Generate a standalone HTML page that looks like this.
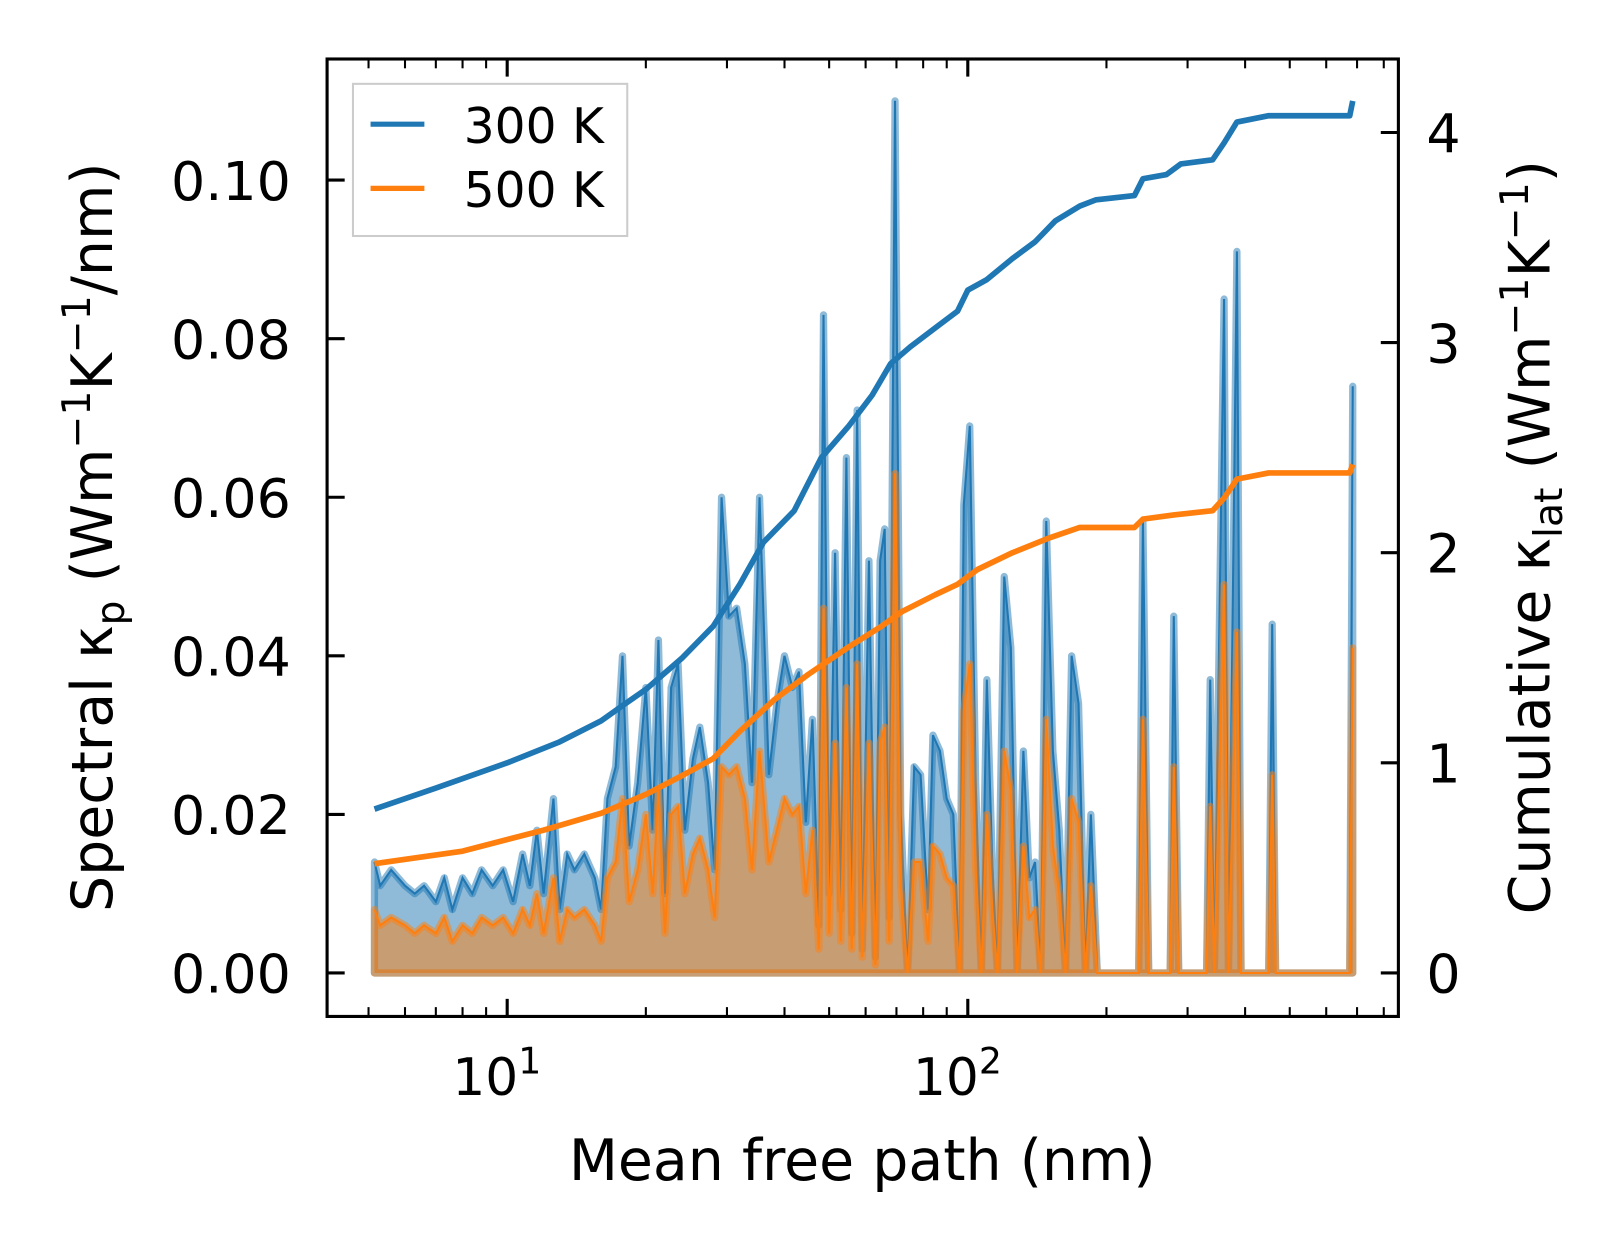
<!DOCTYPE html>
<html><head><meta charset="utf-8"><style>
body{margin:0;background:#fff}
svg text{font-family:"DejaVu Sans","Liberation Sans",sans-serif;fill:#000}
</style></head><body>
<svg id="chart" width="1623" height="1254" viewBox="0 0 1568 1211.5" style="position:absolute;left:0;top:0">
<rect width="1568" height="1212" fill="#fff"/>
<defs><clipPath id="clip"><rect x="316" y="57" width="1035" height="925"/></clipPath></defs>
<g id="plot" clip-path="url(#clip)"></g>
<g id="axes"></g>
</svg>
<script>
const mfp300 = [5.15,5.3,5.6,6,6.3,6.6,7,7.3,7.6,8,8.4,8.8,9.3,9.8,10.3,10.8,11.2,11.6,12,12.6,13,13.5,14,14.7,15.5,16,16.5,17.2,17.8,18.4,19.2,20,20.7,21.3,22,22.7,23.5,24.3,25.3,26.2,27.3,28.2,29.2,30.3,31.5,32.8,34,35.3,37,38.5,40,41.6,43,44.5,46,47.5,48.6,50,51.5,53,54.5,56,57.5,59,61,63,64.5,66,67.5,69.5,71.5,74,76.5,79,82,84,87,90,93,96,98,101,104,107,110,113,116,120,124,128,132,136,140,144,148,153,158,163,168,174,180,185,191,235,240,247,275,280,287,330,336,343,360,368,384,392,450,458,466,675,685];
const spec300 = [0.014,0.011,0.013,0.011,0.010,0.011,0.009,0.012,0.008,0.012,0.010,0.013,0.011,0.013,0.009,0.015,0.011,0.018,0.010,0.022,0.008,0.015,0.013,0.015,0.012,0.008,0.022,0.026,0.040,0.016,0.024,0.036,0.018,0.042,0.010,0.036,0.039,0.018,0.027,0.031,0.024,0.013,0.060,0.045,0.046,0.039,0.024,0.060,0.025,0.034,0.040,0.036,0.038,0.019,0.032,0.006,0.083,0.010,0.053,0.008,0.065,0.005,0.071,0.003,0.052,0.002,0.052,0.056,0.007,0.110,0.020,0.0,0.026,0.025,0.008,0.030,0.028,0.022,0.020,0.0,0.059,0.069,0.024,0.0,0.037,0.014,0.0,0.050,0.041,0.0,0.028,0.012,0.014,0.0,0.057,0.028,0.018,0.0,0.040,0.034,0.0,0.020,0.0,0.0,0.057,0.0,0.0,0.045,0.0,0.0,0.037,0.0,0.085,0.0,0.091,0.0,0.0,0.044,0.0,0.0,0.074];
const spec500 = [0.008,0.006,0.007,0.006,0.005,0.006,0.005,0.007,0.004,0.006,0.005,0.007,0.006,0.007,0.005,0.008,0.006,0.010,0.005,0.012,0.004,0.008,0.007,0.008,0.006,0.004,0.012,0.014,0.022,0.009,0.013,0.020,0.010,0.023,0.005,0.020,0.021,0.010,0.015,0.017,0.013,0.007,0.026,0.025,0.026,0.022,0.013,0.028,0.014,0.018,0.022,0.020,0.021,0.010,0.018,0.003,0.046,0.005,0.029,0.004,0.036,0.003,0.039,0.002,0.029,0.001,0.029,0.031,0.004,0.063,0.011,0.0,0.014,0.014,0.004,0.016,0.015,0.012,0.011,0.0,0.033,0.039,0.013,0.0,0.020,0.008,0.0,0.028,0.023,0.0,0.016,0.007,0.008,0.0,0.032,0.016,0.010,0.0,0.022,0.019,0.0,0.011,0.0,0.0,0.032,0.0,0.0,0.026,0.0,0.0,0.021,0.0,0.049,0.0,0.043,0.0,0.0,0.025,0.0,0.0,0.041];
const cumX300 = [5.15,7,10,13,16,18,20,24,28,32,36,42,48,55,62,68,75,85,95,100,110,125,140,155,175,190,230,240,270,290,340,360,384,450,675,685];
const cum300 = [0.78,0.88,1.0,1.1,1.2,1.28,1.35,1.5,1.65,1.85,2.05,2.2,2.45,2.6,2.75,2.9,2.98,3.07,3.15,3.25,3.3,3.4,3.48,3.58,3.65,3.68,3.7,3.78,3.8,3.85,3.87,3.95,4.05,4.08,4.08,4.15];
const cumX500 = [5.15,8,12,16,20,24,28,32,38,45,55,65,72,85,95,105,125,150,175,230,240,280,340,360,384,450,675,685];
const cum500 = [0.52,0.58,0.68,0.76,0.85,0.94,1.02,1.15,1.3,1.42,1.55,1.65,1.72,1.8,1.85,1.92,2.0,2.07,2.12,2.12,2.16,2.18,2.2,2.26,2.35,2.38,2.38,2.42];
const yTicksL = [0,0.02,0.04,0.06,0.08,0.10];
const yTickLabelsL = ["0.00","0.02","0.04","0.06","0.08","0.10"];
const yTicksR = [0,1,2,3,4];

const NS="http://www.w3.org/2000/svg";
const X=v=>490+(Math.log10(v)-1)*445;
const YL=v=>940-v*7660;
const YR=v=>940-v*203;
const plot=document.getElementById('plot'), axes=document.getElementById('axes');
function mk(tag,attrs,parent){const e=document.createElementNS(NS,tag);for(const k in attrs)e.setAttribute(k,attrs[k]);parent.appendChild(e);return e;}
function linePts(xs,ys,fy){return xs.map((x,i)=>X(x).toFixed(1)+','+fy(ys[i]).toFixed(1)).join(' ');}
function area(xs,ys,color,name){
  const pts=linePts(xs,ys,YL);
  const poly=mk('polygon',{points:X(xs[0])+','+YL(0)+' '+pts+' '+X(xs[xs.length-1])+','+YL(0),fill:color,'fill-opacity':0.5,stroke:color,'stroke-opacity':0.5,'stroke-width':7,'stroke-linejoin':'round'},plot);
  
  
  const pl=mk('polyline',{points:pts,fill:'none',stroke:color,'stroke-width':2},plot);
  
  
}
area(mfp300,spec300,'#1f77b4','spectral-300k');
area(mfp300,spec500,'#ff7f0e','spectral-500k');
const c3=mk('polyline',{points:linePts(cumX300,cum300,YR),fill:'none',stroke:'#1f77b4','stroke-width':5.5,'stroke-linejoin':'round'},plot);


const c5=mk('polyline',{points:linePts(cumX500,cum500,YR),fill:'none',stroke:'#ff7f0e','stroke-width':5.5,'stroke-linejoin':'round'},plot);



const fr=mk('rect',{x:316,y:57,width:1035,height:925,fill:'none',stroke:'#000','stroke-width':3},axes);


for(let d=0;d<3;d++){for(let m=1;m<10;m++){const v=m*Math.pow(10,d);const x=X(v);if(x<318||x>1349)continue;const len=m===1?17:9;const w=m===1?3:2;
  mk('line',{x1:x,x2:x,y1:982,y2:982-len,stroke:'#000','stroke-width':w},axes);
  mk('line',{x1:x,x2:x,y1:57,y2:57+len,stroke:'#000','stroke-width':w},axes);}}
[[10,"1"],[100,"2"]].forEach(([v,e])=>{const t=mk('text',{x:X(v)-10,y:1058,'font-size':50,'text-anchor':'middle'},axes);t.textContent='10';const s=mk('tspan',{dy:-21,'font-size':35},t);s.textContent=e;});
yTicksL.forEach((v,i)=>{const y=YL(v);mk('line',{x1:316,x2:333,y1:y,y2:y,stroke:'#000','stroke-width':3},axes);
  const t=mk('text',{x:281,y:y+19,'font-size':52,'text-anchor':'end'},axes);t.textContent=yTickLabelsL[i];
  });
yTicksR.forEach(v=>{const y=YR(v);mk('line',{x1:1334,x2:1351,y1:y,y2:y,stroke:'#000','stroke-width':3},axes);
  const t=mk('text',{x:1378,y:y+19,'font-size':52},axes);t.textContent=String(v);
  });
</script>
<svg style="position:absolute;left:0;top:0" width="1623" height="1254" viewBox="0 0 1568 1211.5">
<text x="833" y="1140" font-size="55" text-anchor="middle">Mean free path (nm)</text>
<text transform="translate(108,519) rotate(-90)" font-size="55" text-anchor="middle">Spectral κ<tspan font-size="38" dy="12">p</tspan><tspan dy="-12"> (Wm</tspan><tspan font-size="38" dy="-21">−1</tspan><tspan dy="21">K</tspan><tspan font-size="38" dy="-21">−1</tspan><tspan dy="21">/nm)</tspan></text>
<text transform="translate(1497,519) rotate(-90)" font-size="55" text-anchor="middle">Cumulative κ<tspan font-size="38" dy="12">lat</tspan><tspan dy="-12"> (Wm</tspan><tspan font-size="38" dy="-21">−1</tspan><tspan dy="21">K</tspan><tspan font-size="38" dy="-21">−1</tspan><tspan dy="21">)</tspan></text>
<g>
<rect x="341" y="81" width="265" height="147" fill="#fff" fill-opacity="0.8" stroke="#ccc" stroke-width="2"/>
<line x1="358" x2="410" y1="120" y2="120" stroke="#1f77b4" stroke-width="5"/>
<text x="448" y="138" font-size="47">300 K</text>
<line x1="358" x2="410" y1="182" y2="182" stroke="#ff7f0e" stroke-width="5"/>
<text x="448" y="200" font-size="47">500 K</text>
</g>
</svg>
</body></html>
